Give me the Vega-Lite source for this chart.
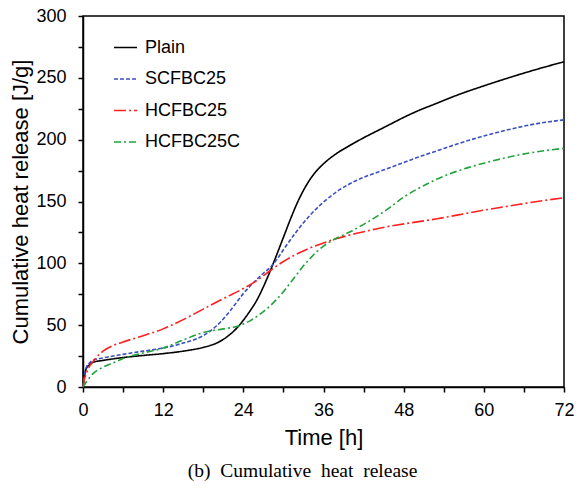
{
  "$schema": "https://vega.github.io/schema/vega-lite/v6.json",
  "autosize": "none",
  "width": 481,
  "height": 371,
  "padding": {"left": 83, "top": 16, "right": 18, "bottom": 108},
  "background": "white",
  "config": {
    "font": "Liberation Sans",
    "view": {"stroke": "black", "strokeWidth": 1.5},
    "axis": {"grid": false, "labelFlush": false, "domainColor": "black", "domainWidth": 1.5, "tickColor": "black", "tickWidth": 1.5, "tickSize": 5, "labelColor": "black", "titleColor": "black", "labelFont": "Liberation Sans", "titleFont": "Liberation Sans", "labelFontSize": 18, "titleFontSize": 22, "titleFontWeight": "normal"}
  },
  "title": {"text": "(b)\u00a0 Cumulative\u00a0 heat\u00a0 release", "orient": "bottom", "font": "Liberation Serif", "fontSize": 19.5, "fontWeight": "normal", "color": "black", "offset": 14, "dx": -21},
  "data": {"values": [
    {"s":"Plain","t":0,"v":0},{"s":"Plain","t":0.2,"v":8},{"s":"Plain","t":0.5,"v":15},{"s":"Plain","t":1,"v":18},{"s":"Plain","t":1.5,"v":20},{"s":"Plain","t":3,"v":21.5},{"s":"Plain","t":6,"v":23.8},{"s":"Plain","t":9,"v":25.5},{"s":"Plain","t":12,"v":27},{"s":"Plain","t":15,"v":29},{"s":"Plain","t":18,"v":32},{"s":"Plain","t":19,"v":33.5},{"s":"Plain","t":20,"v":35.5},{"s":"Plain","t":21,"v":38.5},{"s":"Plain","t":22,"v":42.5},{"s":"Plain","t":23,"v":47.5},{"s":"Plain","t":24,"v":54},{"s":"Plain","t":25,"v":61.5},{"s":"Plain","t":26,"v":70},{"s":"Plain","t":27,"v":81},{"s":"Plain","t":28,"v":93.5},{"s":"Plain","t":29,"v":107},{"s":"Plain","t":30,"v":121},{"s":"Plain","t":31,"v":135},{"s":"Plain","t":32,"v":148},{"s":"Plain","t":33,"v":159},{"s":"Plain","t":34,"v":168},{"s":"Plain","t":35,"v":175},{"s":"Plain","t":36,"v":180.5},{"s":"Plain","t":38,"v":189},{"s":"Plain","t":40,"v":195.5},{"s":"Plain","t":42,"v":201.5},{"s":"Plain","t":44,"v":207},{"s":"Plain","t":46,"v":212.5},{"s":"Plain","t":48,"v":218},{"s":"Plain","t":50,"v":223},{"s":"Plain","t":53,"v":229.5},{"s":"Plain","t":56,"v":236},{"s":"Plain","t":60,"v":243.5},{"s":"Plain","t":64,"v":250.5},{"s":"Plain","t":68,"v":257},{"s":"Plain","t":72,"v":263},
    {"s":"SCFBC25","t":0,"v":0},{"s":"SCFBC25","t":0.2,"v":9},{"s":"SCFBC25","t":0.5,"v":16},{"s":"SCFBC25","t":1,"v":19.5},{"s":"SCFBC25","t":1.5,"v":21.6},{"s":"SCFBC25","t":3,"v":23.5},{"s":"SCFBC25","t":6,"v":26.4},{"s":"SCFBC25","t":9,"v":29},{"s":"SCFBC25","t":12,"v":31.5},{"s":"SCFBC25","t":15,"v":35.5},{"s":"SCFBC25","t":17,"v":39},{"s":"SCFBC25","t":18,"v":41.5},{"s":"SCFBC25","t":19,"v":45},{"s":"SCFBC25","t":20,"v":49.5},{"s":"SCFBC25","t":21,"v":55},{"s":"SCFBC25","t":22,"v":61.5},{"s":"SCFBC25","t":23,"v":68.5},{"s":"SCFBC25","t":24,"v":75.5},{"s":"SCFBC25","t":25,"v":81.5},{"s":"SCFBC25","t":26,"v":87},{"s":"SCFBC25","t":27,"v":92},{"s":"SCFBC25","t":28,"v":96.5},{"s":"SCFBC25","t":29,"v":103},{"s":"SCFBC25","t":30,"v":111},{"s":"SCFBC25","t":32,"v":126},{"s":"SCFBC25","t":34,"v":139},{"s":"SCFBC25","t":36,"v":149.5},{"s":"SCFBC25","t":38,"v":158},{"s":"SCFBC25","t":40,"v":164.5},{"s":"SCFBC25","t":42,"v":169.5},{"s":"SCFBC25","t":44,"v":173.5},{"s":"SCFBC25","t":46,"v":177.5},{"s":"SCFBC25","t":48,"v":181.5},{"s":"SCFBC25","t":50,"v":185.5},{"s":"SCFBC25","t":53,"v":191},{"s":"SCFBC25","t":56,"v":196.5},{"s":"SCFBC25","t":60,"v":203},{"s":"SCFBC25","t":64,"v":208.5},{"s":"SCFBC25","t":68,"v":213},{"s":"SCFBC25","t":72,"v":216},
    {"s":"HCFBC25","t":0,"v":0},{"s":"HCFBC25","t":0.2,"v":6},{"s":"HCFBC25","t":0.5,"v":11},{"s":"HCFBC25","t":1,"v":17},{"s":"HCFBC25","t":1.5,"v":20.5},{"s":"HCFBC25","t":2,"v":24},{"s":"HCFBC25","t":3,"v":29},{"s":"HCFBC25","t":4.5,"v":33.5},{"s":"HCFBC25","t":6,"v":36.4},{"s":"HCFBC25","t":9,"v":41.5},{"s":"HCFBC25","t":12,"v":47},{"s":"HCFBC25","t":15,"v":54.5},{"s":"HCFBC25","t":18,"v":63},{"s":"HCFBC25","t":21,"v":71.5},{"s":"HCFBC25","t":24,"v":79.6},{"s":"HCFBC25","t":26,"v":86},{"s":"HCFBC25","t":28,"v":94},{"s":"HCFBC25","t":30,"v":101.5},{"s":"HCFBC25","t":32,"v":107.5},{"s":"HCFBC25","t":34,"v":112.5},{"s":"HCFBC25","t":36,"v":116.5},{"s":"HCFBC25","t":38,"v":120},{"s":"HCFBC25","t":40,"v":123},{"s":"HCFBC25","t":42,"v":125.5},{"s":"HCFBC25","t":44,"v":128},{"s":"HCFBC25","t":47,"v":131},{"s":"HCFBC25","t":50,"v":133.5},{"s":"HCFBC25","t":53,"v":136},{"s":"HCFBC25","t":56,"v":139},{"s":"HCFBC25","t":60,"v":143},{"s":"HCFBC25","t":64,"v":146.5},{"s":"HCFBC25","t":68,"v":150},{"s":"HCFBC25","t":72,"v":153},
    {"s":"HCFBC25C","t":0,"v":0},{"s":"HCFBC25C","t":0.5,"v":4},{"s":"HCFBC25C","t":1.5,"v":10.8},{"s":"HCFBC25C","t":3,"v":16},{"s":"HCFBC25C","t":4.5,"v":19.5},{"s":"HCFBC25C","t":6,"v":23},{"s":"HCFBC25C","t":9,"v":27.5},{"s":"HCFBC25C","t":12,"v":31.5},{"s":"HCFBC25C","t":15,"v":38},{"s":"HCFBC25C","t":18,"v":44},{"s":"HCFBC25C","t":21,"v":47},{"s":"HCFBC25C","t":23,"v":49},{"s":"HCFBC25C","t":24,"v":51},{"s":"HCFBC25C","t":25,"v":53.5},{"s":"HCFBC25C","t":26,"v":57},{"s":"HCFBC25C","t":27,"v":61},{"s":"HCFBC25C","t":28,"v":65.5},{"s":"HCFBC25C","t":29,"v":71},{"s":"HCFBC25C","t":30,"v":77},{"s":"HCFBC25C","t":31,"v":84},{"s":"HCFBC25C","t":32,"v":91},{"s":"HCFBC25C","t":33,"v":98},{"s":"HCFBC25C","t":34,"v":104},{"s":"HCFBC25C","t":35,"v":109.5},{"s":"HCFBC25C","t":36,"v":114},{"s":"HCFBC25C","t":37,"v":117.5},{"s":"HCFBC25C","t":38,"v":120.5},{"s":"HCFBC25C","t":39,"v":123},{"s":"HCFBC25C","t":40,"v":125.5},{"s":"HCFBC25C","t":42,"v":131.5},{"s":"HCFBC25C","t":44,"v":138},{"s":"HCFBC25C","t":46,"v":145.5},{"s":"HCFBC25C","t":48,"v":153.5},{"s":"HCFBC25C","t":50,"v":160},{"s":"HCFBC25C","t":52,"v":165.5},{"s":"HCFBC25C","t":54,"v":170.5},{"s":"HCFBC25C","t":56,"v":174.5},{"s":"HCFBC25C","t":58,"v":178},{"s":"HCFBC25C","t":60,"v":181},{"s":"HCFBC25C","t":63,"v":185},{"s":"HCFBC25C","t":66,"v":188.5},{"s":"HCFBC25C","t":69,"v":191},{"s":"HCFBC25C","t":72,"v":193}
  ]},
  "mark": {"type": "line", "interpolate": "monotone", "strokeWidth": 1.6},
  "encoding": {
    "x": {"field": "t", "type": "quantitative", "scale": {"domain": [0, 72], "nice": false},
      "axis": {"title": "Time [h]", "values": [0,6,12,18,24,30,36,42,48,54,60,66,72], "labelExpr": "datum.value % 12 == 0 ? datum.label : ''", "labelPadding": 9, "titlePadding": 8}},
    "y": {"field": "v", "type": "quantitative", "scale": {"domain": [0, 300], "nice": false},
      "axis": {"title": "Cumulative heat release [J/g]", "values": [0,25,50,75,100,125,150,175,200,225,250,275,300], "labelExpr": "datum.value % 50 == 0 ? datum.label : ''", "labelPadding": 12, "titlePadding": 3}},
    "color": {"field": "s", "type": "nominal", "sort": ["Plain","SCFBC25","HCFBC25","HCFBC25C"],
      "scale": {"domain": ["Plain","SCFBC25","HCFBC25","HCFBC25C"], "range": ["#000000","#3a4fc0","#ff1f1f","#22a23a"]},
      "legend": {"title": null, "orient": "none", "legendX": 30, "legendY": 19, "symbolType": "stroke", "symbolSize": 529, "symbolStrokeWidth": 1.5, "labelFontSize": 18, "labelFont": "Liberation Sans", "labelColor": "black", "labelOffset": 7, "rowPadding": 9.5}},
    "strokeDash": {"field": "s", "type": "nominal", "sort": ["Plain","SCFBC25","HCFBC25","HCFBC25C"],
      "scale": {"domain": ["Plain","SCFBC25","HCFBC25","HCFBC25C"], "range": [[1,0],[4,2],[12,3,2,3],[7,3,2,3]]},
      "legend": null}
  }
}
